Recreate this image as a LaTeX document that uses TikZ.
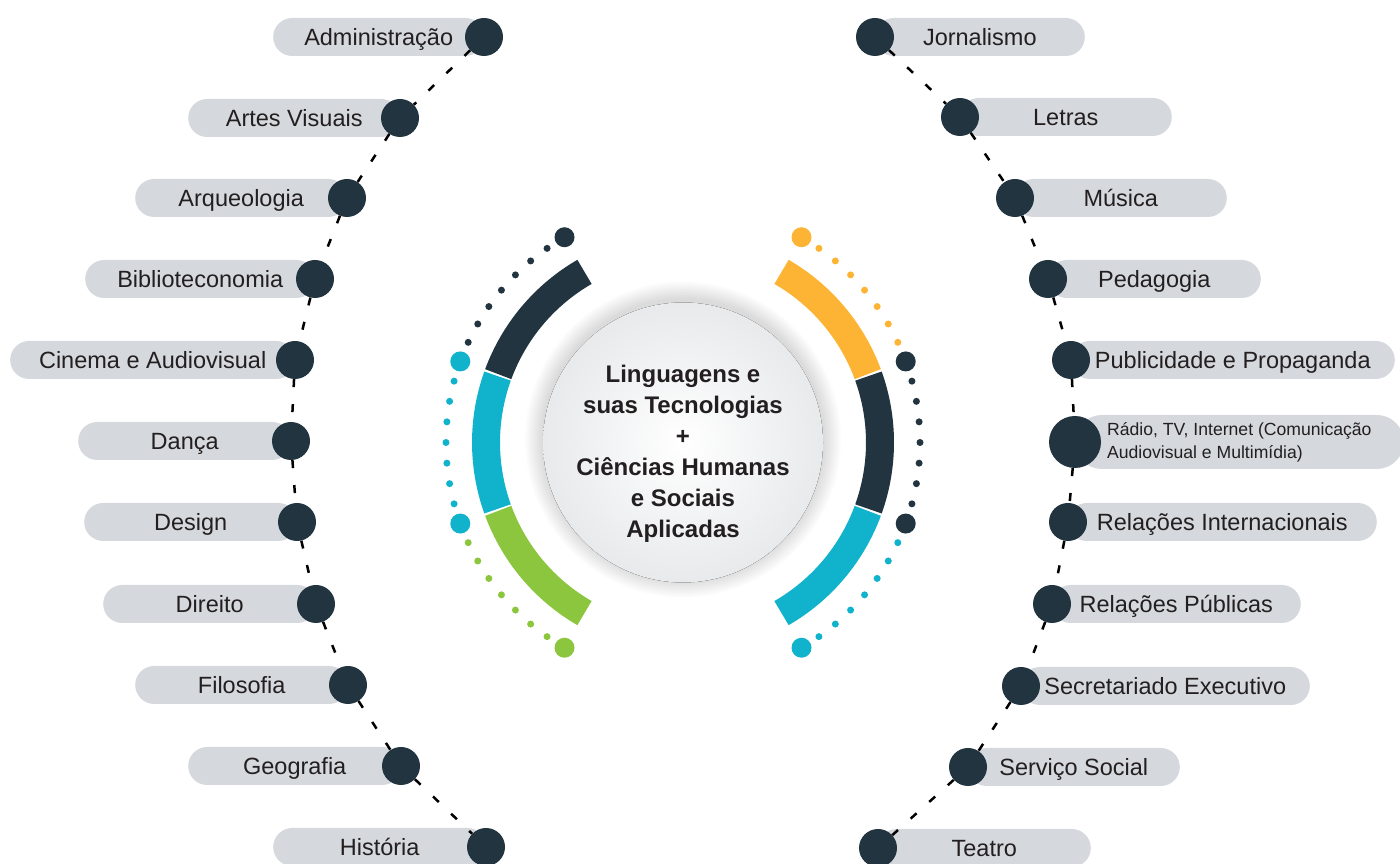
\documentclass[tikz,border=0pt]{standalone}
\usepackage{fontspec}
\setmainfont{Liberation Sans}
\definecolor{navy}{RGB}{33,52,64}
\definecolor{pillgray}{RGB}{213,216,220}
\definecolor{tealc}{RGB}{16,179,203}
\definecolor{limec}{RGB}{140,198,63}
\definecolor{amber}{RGB}{253,180,53}
\definecolor{ink}{RGB}{35,31,32}
\begin{document}
\begin{tikzpicture}[
	x=1pt, y=1pt,
	pill/.style={draw=none, fill=pillgray, rectangle, rounded corners=19pt, minimum height=38pt, inner sep=0pt,
		text height=21pt, text depth=4pt, text=ink, font=\fontsize{23.5}{28}\selectfont},
	dot/.style={circle, fill=navy, minimum size=38pt, inner sep=0pt},
	link/.style={black, line width=2.5pt, dash pattern=on 8pt off 17pt},
	band/.style={line width=28pt},
	]
	\useasboundingbox (0,0) rectangle (1400,864);
	
	%-----------------------
	% Radii around the centre
	%-----------------------
	\def\rdisc{140}    % centre disc
	\def\rband{197}    % coloured bands
	\def\rdots{237}    % dotted rings
	
	\coordinate (C) at (683,421.5);
	
	%-----------------------
	% Centre disc with soft shadow
	%-----------------------
	\foreach \i in {1,...,12}
		\fill[black, opacity=0.012] ([yshift=3pt]C) circle (\rdisc+1.5*\i);
	\fill[inner color=white, outer color=pillgray!55] (C) circle (\rdisc);
	\node[align=center, text=ink, font=\bfseries\fontsize{24}{31}\selectfont] (title) at (683,410)
		{Linguagens e\\suas Tecnologias\\+\\Ciências Humanas\\e Sociais\\Aplicadas};
	
	%-----------------------
	% Left bands and dots (120 -> 240 deg)
	%-----------------------
	\draw[band, navy]  ([shift={(120:\rband)}]C) arc[start angle=120, end angle=159.7, radius=\rband];
	\draw[band, tealc] ([shift={(160.3:\rband)}]C) arc[start angle=160.3, end angle=199.7, radius=\rband];
	\draw[band, limec] ([shift={(200.3:\rband)}]C) arc[start angle=200.3, end angle=240, radius=\rband];
	
	\foreach \a in {125,130,...,155} \fill[navy]  ([shift={(\a:\rdots)}]C) circle (3.5);
	\foreach \a in {165,170,...,195} \fill[tealc] ([shift={(\a:\rdots)}]C) circle (3.5);
	\foreach \a in {205,210,...,235} \fill[limec] ([shift={(\a:\rdots)}]C) circle (3.5);
	\fill[navy]  ([shift={(120:\rdots)}]C) circle (10);
	\fill[tealc] ([shift={(160:\rdots)}]C) circle (10);
	\fill[tealc] ([shift={(200:\rdots)}]C) circle (10);
	\fill[limec] ([shift={(240:\rdots)}]C) circle (10);
	
	%-----------------------
	% Right bands and dots (60 -> -60 deg)
	%-----------------------
	\draw[band, amber] ([shift={(60:\rband)}]C) arc[start angle=60, end angle=20.3, radius=\rband];
	\draw[band, navy]  ([shift={(19.7:\rband)}]C) arc[start angle=19.7, end angle=-19.7, radius=\rband];
	\draw[band, tealc] ([shift={(-20.3:\rband)}]C) arc[start angle=-20.3, end angle=-60, radius=\rband];
	
	\foreach \a in {55,50,...,25} \fill[amber] ([shift={(\a:\rdots)}]C) circle (3.5);
	\foreach \a in {15,10,...,-15} \fill[navy] ([shift={(\a:\rdots)}]C) circle (3.5);
	\foreach \a in {-25,-30,...,-55} \fill[tealc] ([shift={(\a:\rdots)}]C) circle (3.5);
	\fill[amber] ([shift={(60:\rdots)}]C) circle (10);
	\fill[navy]  ([shift={(20:\rdots)}]C) circle (10);
	\fill[navy]  ([shift={(-20:\rdots)}]C) circle (10);
	\fill[tealc] ([shift={(-60:\rdots)}]C) circle (10);
	
	%-----------------------
	% Left column: courses
	%-----------------------
	\node[pill, anchor=west, minimum width=211pt] (L1)  at (273,827) {Administração};
	\node[pill, anchor=west, minimum width=212pt] (L2)  at (188,746) {Artes Visuais};
	\node[pill, anchor=west, minimum width=212pt] (L3)  at (135,666) {Arqueologia};
	\node[pill, anchor=west, minimum width=230pt] (L4)  at (85,585)  {Biblioteconomia};
	\node[pill, anchor=west, minimum width=285pt] (L5)  at (10,504)  {Cinema e Audiovisual};
	\node[pill, anchor=west, minimum width=213pt] (L6)  at (78,423)  {Dança};
	\node[pill, anchor=west, minimum width=213pt] (L7)  at (84,342)  {Design};
	\node[pill, anchor=west, minimum width=213pt] (L8)  at (103,260) {Direito};
	\node[pill, anchor=west, minimum width=213pt] (L9)  at (135,179) {Filosofia};
	\node[pill, anchor=west, minimum width=213pt] (L10) at (188,98)  {Geografia};
	\node[pill, anchor=west, minimum width=213pt] (L11) at (273,17)  {História};
	
	\node[dot] (LD1)  at (484,827) {};
	\node[dot] (LD2)  at (400,746) {};
	\node[dot] (LD3)  at (347,666) {};
	\node[dot] (LD4)  at (315,585) {};
	\node[dot] (LD5)  at (295,504) {};
	\node[dot] (LD6)  at (291,423) {};
	\node[dot] (LD7)  at (297,342) {};
	\node[dot] (LD8)  at (316,260) {};
	\node[dot] (LD9)  at (348,179) {};
	\node[dot] (LD10) at (401,98)  {};
	\node[dot] (LD11) at (486,17)  {};
	
	%-----------------------
	% Right column: courses
	%-----------------------
	\node[pill, anchor=east, minimum width=210pt] (R1)  at (1085,827) {Jornalismo};
	\node[pill, anchor=east, minimum width=212pt] (R2)  at (1172,747) {Letras};
	\node[pill, anchor=east, minimum width=212pt] (R3)  at (1227,666) {Música};
	\node[pill, anchor=east, minimum width=213pt] (R4)  at (1261,585) {Pedagogia};
	\node[pill, anchor=east, minimum width=324pt] (R5)  at (1395,504) {Publicidade e Propaganda};
	\node[pill, anchor=east, minimum width=329pt, minimum height=54pt, rounded corners=27pt, align=left,
		text height=, text depth=, font=\fontsize{17.6}{23}\selectfont] (R6) at (1404,422) {Rádio, TV, Internet (Comunicação\\Audiovisual e Multimídia)};
	\node[pill, anchor=east, minimum width=309pt] (R7)  at (1377,342) {Relações Internacionais};
	\node[pill, anchor=east, minimum width=249pt] (R8)  at (1301,260) {Relações Públicas};
	\node[pill, anchor=east, minimum width=289pt] (R9)  at (1310,178) {Secretariado Executivo};
	\node[pill, anchor=east, minimum width=212pt] (R10) at (1180,97)  {Serviço Social};
	\node[pill, anchor=east, minimum width=213pt] (R11) at (1091,16)  {Teatro};
	
	\node[dot] (RD1)  at (875,827)  {};
	\node[dot] (RD2)  at (960,747)  {};
	\node[dot] (RD3)  at (1015,666) {};
	\node[dot] (RD4)  at (1048,585) {};
	\node[dot] (RD5)  at (1071,504) {};
	\node[dot, minimum size=52pt] (RD6) at (1075,422) {};
	\node[dot] (RD7)  at (1068,342) {};
	\node[dot] (RD8)  at (1052,260) {};
	\node[dot] (RD9)  at (1021,178) {};
	\node[dot] (RD10) at (968,97)   {};
	\node[dot] (RD11) at (878,16)   {};
	
	%-----------------------
	% Dashed chains
	%-----------------------
	\foreach \i [evaluate=\i as \j using int(\i+1)] in {1,...,10} {
		\draw[link] (LD\i) -- (LD\j);
		\draw[link] (RD\i) -- (RD\j);
	}
	
\end{tikzpicture}
\end{document}
